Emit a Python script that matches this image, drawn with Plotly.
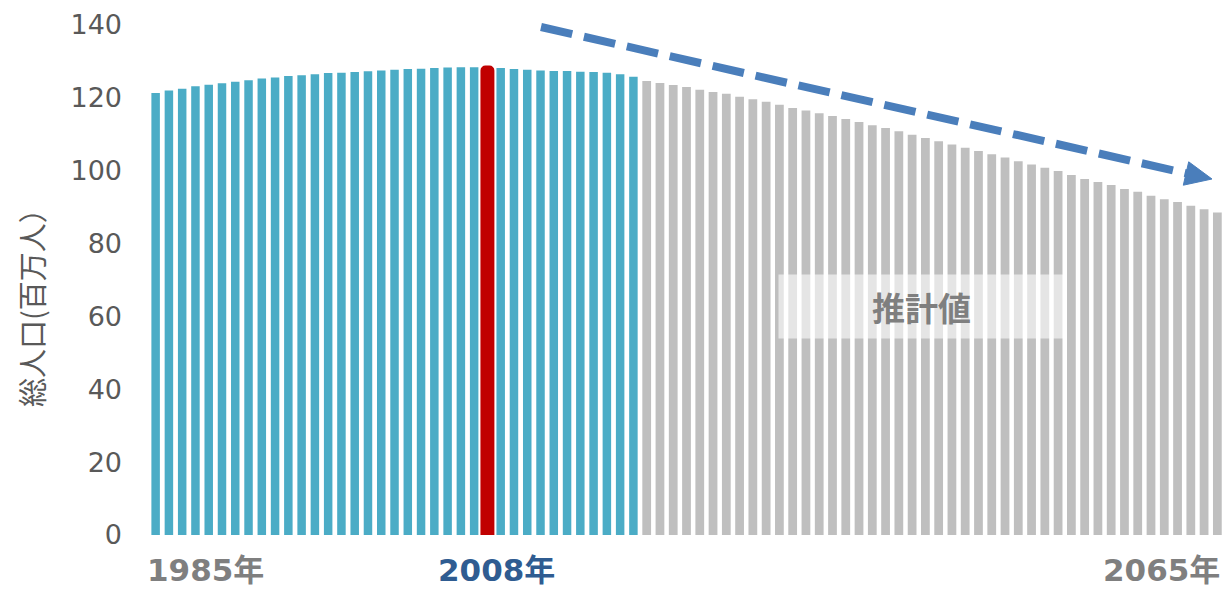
import plotly.graph_objects as go

# ---- data ----
years = list(range(1985, 2066))
population = [
    121.3, 122.0, 122.5, 123.2, 123.6, 124.0, 124.4, 124.8, 125.3, 125.6,
    126.0, 126.2, 126.5, 126.8, 126.9, 127.1, 127.3, 127.5, 127.7, 127.9,
    128.0, 128.2, 128.3, 128.4, 128.4, 128.6, 128.2, 127.9, 127.7, 127.5,
    127.4, 127.4, 127.2, 127.1, 126.9, 126.5, 125.8,
    124.6, 124.1, 123.5, 123.0, 122.2, 121.6, 121.1, 120.3, 119.6, 118.9,
    118.1, 117.2, 116.5, 115.8, 115.0, 114.2, 113.4, 112.5, 111.7, 110.8,
    109.9, 109.0, 108.1, 107.2, 106.3, 105.4, 104.5, 103.6, 102.6, 101.7,
    100.8, 99.9, 98.8, 97.7, 96.9, 96.1, 95.0, 94.2, 93.1, 92.2,
    91.4, 90.4, 89.4, 88.5,
]
actual_count = 37          # bars drawn as actual values (blue)
highlight_idx = 25         # highlighted (red) bar
y_ticks = [0, 20, 40, 60, 80, 100, 120, 140]
x_labels = ["1985年", "2008年", "2065年"]
y_title = "総人口(百万人）"
estimate_label = "推計値"

# ---- layout geometry ----
W, H = 1225, 589
L, R, T, B = 149, 1, 25, 54
PW, PH = W - L - R, H - T - B


def px(x):
    return (x - L) / PW


def py(y):
    return 1 - (y - T) / PH


BLUE = "#4BACC6"
GRAY = "#BFBFBF"
RED = "#C00000"
ARROW = "#4A7EBB"

fig = go.Figure()
fig.add_trace(go.Bar(
    x=years[:actual_count], y=population[:actual_count],
    marker=dict(color=BLUE, line=dict(width=0)), width=0.64, hoverinfo="x+y"))
fig.add_trace(go.Bar(
    x=years[actual_count:], y=population[actual_count:],
    marker=dict(color=GRAY, line=dict(width=0)), width=0.66, hoverinfo="x+y"))
fig.add_trace(go.Bar(
    x=[years[highlight_idx]], y=[population[highlight_idx]],
    marker=dict(color=RED, line=dict(width=2, color=RED), cornerradius=4),
    width=0.9, hoverinfo="x+y"))

fig.update_layout(
    width=W, height=H,
    margin=dict(l=L, r=R, t=T, b=B, pad=0),
    paper_bgcolor="white", plot_bgcolor="white",
    barmode="overlay", showlegend=False,
    font=dict(family="DejaVu Sans, Noto Sans CJK JP", color="#595959"),
    xaxis=dict(range=[years[0] - 0.5, years[-1] + 0.5], showticklabels=False,
               showgrid=False, zeroline=False, showline=False, ticks=""),
    yaxis=dict(range=[0, 140], tickvals=y_ticks, showgrid=False, zeroline=False,
               showline=False, ticks="", ticklabelstandoff=26,
               tickfont=dict(size=27, color="#595959",
                             family="DejaVu Sans, Noto Sans CJK JP")),
)

# y-axis title
fig.add_annotation(
    text=y_title, xref="paper", yref="paper", x=px(31), y=py(300),
    textangle=-90, showarrow=False, xanchor="center", yanchor="middle",
    font=dict(size=29, color="#595959", family="Noto Sans CJK JP"))

# x labels
label_font = dict(size=31, family="DejaVu Sans, Noto Sans CJK JP")
fig.add_annotation(text="<b>%s</b>" % x_labels[0], xref="paper", yref="paper",
                   x=px(205), y=py(570), showarrow=False, xanchor="center",
                   yanchor="middle", font=dict(color="#7F7F7F", **label_font))
fig.add_annotation(text="<b>%s</b>" % x_labels[1], xref="paper", yref="paper",
                   x=px(496), y=py(570), showarrow=False, xanchor="center",
                   yanchor="middle", font=dict(color="#2F5C91", **label_font))
fig.add_annotation(text="<b>%s</b>" % x_labels[2], xref="paper", yref="paper",
                   x=px(1222), y=py(570), showarrow=False, xanchor="right",
                   yanchor="middle", font=dict(color="#7F7F7F", **label_font))

# estimate label box
fig.add_annotation(
    text="<b>%s</b>" % estimate_label, xref="paper", yref="paper",
    x=px(921), y=py(306), showarrow=False, xanchor="center", yanchor="middle",
    width=283, height=61, bgcolor="rgba(255,255,255,0.6)",
    font=dict(size=33, color="#7F7F7F", family="Noto Sans CJK JP"))

# dashed trend arrow
fig.add_shape(type="line", xref="paper", yref="paper",
              x0=px(541), y0=py(27), x1=px(1187), y1=py(173.5),
              line=dict(color=ARROW, width=8, dash="32px,12px"))
tri = [(1212, 179), (1188.7, 161.8), (1183.3, 185.2)]
path = "M %f %f L %f %f L %f %f Z" % (
    px(tri[0][0]), py(tri[0][1]), px(tri[1][0]), py(tri[1][1]),
    px(tri[2][0]), py(tri[2][1]))
fig.add_shape(type="path", xref="paper", yref="paper", path=path,
              fillcolor=ARROW, line=dict(color=ARROW, width=1))

fig.write_html("out.html")
